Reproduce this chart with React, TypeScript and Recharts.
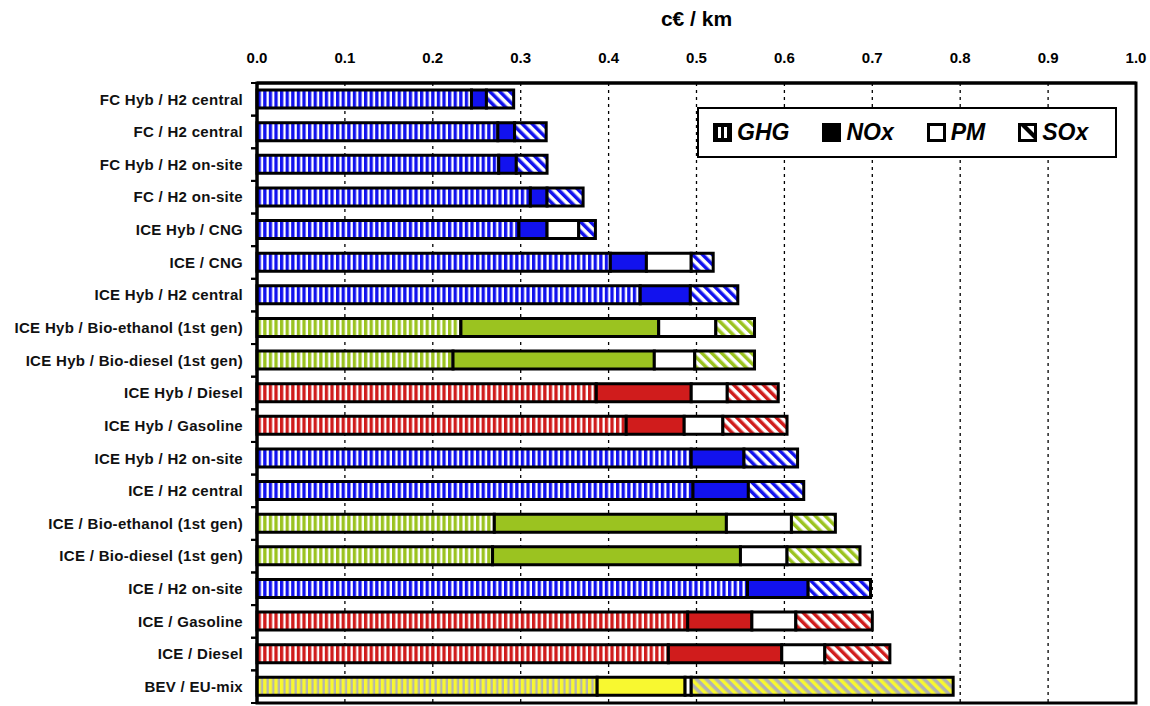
import { BarChart, Bar, XAxis, YAxis, CartesianGrid, Cell, Legend, ReferenceArea } from 'recharts';

const categories = [
  'FC Hyb / H2 central',
  'FC / H2 central',
  'FC Hyb / H2 on-site',
  'FC / H2 on-site',
  'ICE Hyb / CNG',
  'ICE / CNG',
  'ICE Hyb / H2 central',
  'ICE Hyb / Bio-ethanol (1st gen)',
  'ICE Hyb / Bio-diesel (1st gen)',
  'ICE Hyb / Diesel',
  'ICE Hyb / Gasoline',
  'ICE Hyb / H2 on-site',
  'ICE / H2 central',
  'ICE / Bio-ethanol (1st gen)',
  'ICE / Bio-diesel (1st gen)',
  'ICE / H2 on-site',
  'ICE / Gasoline',
  'ICE / Diesel',
  'BEV / EU-mix',
];

// colour family of each pathway
const groups = [
  'blue', 'blue', 'blue', 'blue', 'blue', 'blue', 'blue',
  'green', 'green', 'red', 'red', 'blue', 'blue', 'green', 'green',
  'blue', 'red', 'red', 'yellow',
];

// segment lengths in c€/km
const ghg = [0.244, 0.274, 0.275, 0.311, 0.298, 0.402, 0.436, 0.232, 0.223, 0.386, 0.420, 0.494, 0.496, 0.270, 0.268, 0.558, 0.490, 0.468, 0.387];
const nox = [0.017, 0.019, 0.020, 0.019, 0.032, 0.041, 0.057, 0.225, 0.229, 0.108, 0.066, 0.060, 0.063, 0.264, 0.282, 0.069, 0.073, 0.129, 0.100];
const pm = [0, 0, 0, 0, 0.036, 0.051, 0, 0.065, 0.046, 0.041, 0.044, 0, 0, 0.074, 0.053, 0, 0.050, 0.049, 0.007];
const sox = [0.031, 0.036, 0.035, 0.041, 0.019, 0.025, 0.054, 0.044, 0.068, 0.058, 0.073, 0.061, 0.063, 0.050, 0.083, 0.071, 0.087, 0.074, 0.298];

const xTicks = [0, 0.1, 0.2, 0.3, 0.4, 0.5, 0.6, 0.7, 0.8, 0.9, 1.0];

const PALETTE: Record<string, { main: string; alt: string }> = {
  blue: { main: '#1212ee', alt: '#ffffff' },
  green: { main: '#9bc320', alt: '#ffffff' },
  red: { main: '#d01c1c', alt: '#ffffff' },
  yellow: { main: '#f8f830', alt: '#b3b3b3' },
};

const FONT = '"Liberation Sans", Arial, sans-serif';

const data = categories.map((name, i) => ({
  name,
  group: groups[i],
  ghg: ghg[i],
  nox: nox[i],
  pm: pm[i],
  sox: sox[i],
}));

const fillFor = (key: string, g: string) => {
  if (key === 'ghg') return `url(#ghg-${g})`;
  if (key === 'nox') return PALETTE[g].main;
  if (key === 'pm') return '#ffffff';
  return `url(#sox-${g})`;
};

function CategoryTick(props: any) {
  const { x, y, payload } = props;
  const half = payload?.offset ?? 16.3;
  return (
    <g>
      <text
        x={x}
        y={y}
        dy="0.35em"
        textAnchor="end"
        fontSize={15}
        letterSpacing={0.3}
        fontWeight="bold"
        fill="#111"
        fontFamily={FONT}
      >
        {payload.value}
      </text>
      <line x1={x + 8} x2={x + 14} y1={y - half} y2={y - half} stroke="#000" strokeWidth={2} />
      <line x1={x + 8} x2={x + 14} y1={y + half} y2={y + half} stroke="#000" strokeWidth={2} />
    </g>
  );
}

function Swatch({ kind }: { kind: string }) {
  return (
    <svg width={19} height={19} style={{ display: 'block' }}>
      {kind === 'ghg' && (
        <g>
          <rect width={19} height={19} fill="#000" />
          <rect x={5} y={4} width={3} height={11} fill="#fff" />
          <rect x={11} y={4} width={3} height={11} fill="#fff" />
        </g>
      )}
      {kind === 'nox' && <rect width={19} height={19} fill="#000" />}
      {kind === 'pm' && <rect x={1.5} y={1.5} width={16} height={16} fill="#fff" stroke="#000" strokeWidth={3} />}
      {kind === 'sox' && (
        <g>
          <rect x={1.5} y={1.5} width={16} height={16} fill="#fff" stroke="#000" strokeWidth={3} />
          <polygon points="3,3 9,3 16,10 16,16" fill="#000" />
        </g>
      )}
    </svg>
  );
}

const legendItems = [
  { kind: 'ghg', label: 'GHG' },
  { kind: 'nox', label: 'NOx' },
  { kind: 'pm', label: 'PM' },
  { kind: 'sox', label: 'SOx' },
];

function LegendBox() {
  return (
    <div
      style={{
        boxSizing: 'border-box',
        width: 420,
        height: 51,
        border: '2px solid #000',
        background: '#fff',
        display: 'flex',
        alignItems: 'center',
        gap: 33,
        paddingLeft: 14,
        fontFamily: FONT,
      }}
    >
      {legendItems.map(it => (
        <div key={it.kind} style={{ display: 'flex', alignItems: 'center', gap: 5 }}>
          <Swatch kind={it.kind} />
          <span style={{ fontSize: 23, fontWeight: 'bold', fontStyle: 'italic', color: '#000' }}>{it.label}</span>
        </div>
      ))}
    </div>
  );
}

export default function App() {
  return (
    <div style={{ position: 'absolute', left: 0, top: 0, background: '#fff' }}>
      <BarChart
        width={1150}
        height={706}
        data={data}
        layout="vertical"
        margin={{ top: 0, right: 14, bottom: 3, left: 0 }}
      >
        <defs>
          {Object.keys(PALETTE).map(g => (
            <pattern key={`ghg-${g}`} id={`ghg-${g}`} width={5.6} height={10} patternUnits="userSpaceOnUse">
              <rect width={5.6} height={10} fill={PALETTE[g].main} />
              <rect x={3.3} width={2.3} height={10} fill={PALETTE[g].alt} />
            </pattern>
          ))}
          {Object.keys(PALETTE).map(g => (
            <pattern
              key={`sox-${g}`}
              id={`sox-${g}`}
              width={7}
              height={7}
              patternUnits="userSpaceOnUse"
              patternTransform="rotate(-45)"
            >
              <rect width={7} height={7} fill={PALETTE[g].alt} />
              <rect width={3.5} height={7} fill={PALETTE[g].main} />
            </pattern>
          ))}
        </defs>
        <CartesianGrid horizontal={false} stroke="#000" strokeDasharray="3 4" strokeWidth={1.3} />
        <XAxis
          type="number"
          orientation="top"
          domain={[0, 1]}
          ticks={xTicks}
          interval={0}
          height={83}
          tickLine={false}
          tickSize={0}
          tickMargin={20}
          axisLine={{ stroke: '#000', strokeWidth: 3 }}
          tick={{ fill: '#000', fontSize: 15, fontWeight: 'bold', fontFamily: FONT }}
          tickFormatter={(v: number) => v.toFixed(1)}
          label={{ value: 'c€ / km', position: 'insideTop', offset: 11, fontSize: 21, fontWeight: 'bold', fill: '#000', fontFamily: FONT }}
        />
        <YAxis
          type="category"
          dataKey="name"
          width={257}
          interval={0}
          tickLine={false}
          tickSize={0}
          tickMargin={14}
          axisLine={{ stroke: '#000', strokeWidth: 3 }}
          tick={<CategoryTick />}
        />
        {['ghg', 'nox', 'pm', 'sox'].map(k => (
          <Bar key={k} dataKey={k} stackId="a" barSize={18} stroke="#000" strokeWidth={3} isAnimationActive={false}>
            {data.map((d, i) => (
              <Cell key={i} fill={fillFor(k, d.group)} />
            ))}
          </Bar>
        ))}
        <ReferenceArea x1={0} x2={1} fill="none" stroke="#000" strokeWidth={3} ifOverflow="visible" />
        <Legend
          verticalAlign="middle"
          align="center"
          layout="horizontal"
          wrapperStyle={{ top: 107, left: 697, width: 420, height: 51 }}
          content={() => <LegendBox />}
        />
      </BarChart>
    </div>
  );
}
